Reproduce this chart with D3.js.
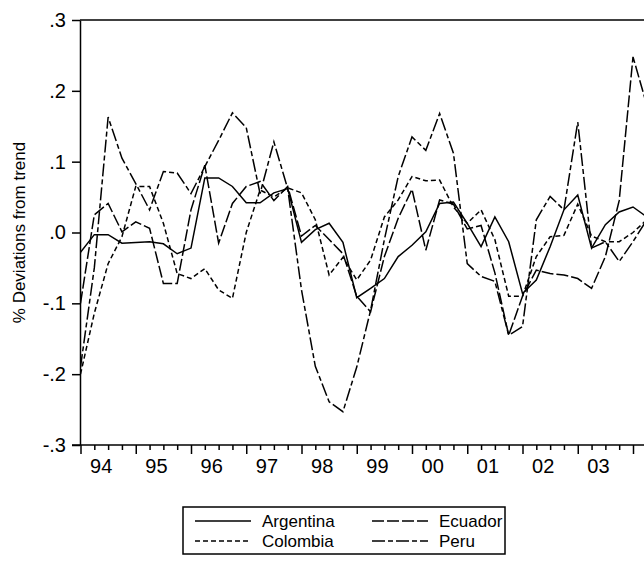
<!DOCTYPE html>
<html>
<head>
<meta charset="utf-8">
<script src="https://cdn.jsdelivr.net/npm/d3@7"></script>
<style>
  html, body { margin: 0; padding: 0; background: #fff; }
  svg { display: block; }
  text { font-family: "Liberation Sans", Arial, sans-serif; fill: #000; }
</style>
</head>
<body>
<script>
// ---- data (quarterly, 1994Q1 .. 2004Q2) ----
const quarterLabels = ["94Q1","94Q2","94Q3","94Q4","95Q1","95Q2","95Q3","95Q4","96Q1","96Q2","96Q3","96Q4",
  "97Q1","97Q2","97Q3","97Q4","98Q1","98Q2","98Q3","98Q4","99Q1","99Q2","99Q3","99Q4",
  "00Q1","00Q2","00Q3","00Q4","01Q1","01Q2","01Q3","01Q4","02Q1","02Q2","02Q3","02Q4",
  "03Q1","03Q2","03Q3","03Q4","04Q1","04Q2"];
const argentina = [-0.028,-0.003,-0.003,-0.015,-0.014,-0.013,-0.016,-0.030,-0.022,0.077,0.077,0.065,
  0.042,0.042,0.056,0.062,-0.014,0.004,0.013,-0.014,-0.092,-0.079,-0.065,-0.034,
  -0.018,0.001,0.041,0.043,0.013,-0.020,0.022,-0.013,-0.086,-0.067,-0.020,0.032,
  0.053,-0.022,0.011,0.029,0.036,0.022];
const colombia = [-0.200,-0.114,-0.044,-0.006,0.065,0.065,0.013,-0.058,-0.065,-0.051,-0.081,-0.093,
  0.000,0.060,0.050,0.063,0.056,0.018,-0.060,-0.035,-0.067,-0.039,0.022,0.046,
  0.079,0.073,0.074,0.036,0.013,0.032,-0.010,-0.090,-0.090,-0.034,-0.006,-0.004,
  0.040,-0.005,-0.013,-0.013,0.000,0.018];
const ecuador = [-0.100,0.025,0.041,0.001,0.015,0.006,-0.072,-0.072,0.032,0.095,-0.015,0.041,
  0.065,0.072,0.045,0.065,-0.005,0.010,-0.010,-0.030,-0.090,-0.112,-0.034,0.020,
  0.061,-0.025,0.046,0.040,0.005,0.010,-0.057,-0.145,-0.090,-0.053,-0.058,-0.060,
  -0.065,-0.079,-0.034,0.045,0.248,0.180];
const peru = [-0.190,-0.050,0.163,0.105,0.069,0.032,0.086,0.084,0.055,0.093,0.130,0.169,
  0.148,0.055,0.128,0.062,-0.081,-0.189,-0.239,-0.253,-0.190,-0.110,-0.010,0.079,
  0.135,0.116,0.168,0.112,-0.044,-0.062,-0.069,-0.145,-0.133,0.018,0.051,0.032,
  0.156,-0.022,-0.013,-0.041,-0.013,0.018];
const seriesNames = ["Argentina","Colombia","Ecuador","Peru"];
const yearLabels = ["94","95","96","97","98","99","00","01","02","03"];
const yTickValues = [-0.3,-0.2,-0.1,0,0.1,0.2,0.3];
const yTickLabels = ["-.3","-.2","-.1",".0",".1",".2",".3"];
const yTitle = "% Deviations from trend";

// ---- layout ----
const W = 644, H = 576;
const plotLeft = 80, plotTop = 20, plotBottom = 445, plotRight = 644;

const svg = d3.select("body").append("svg").attr("width", W).attr("height", H);

const x = d3.scaleLinear().domain([0, 40]).range([80.5, 633]);
const y = d3.scaleLinear().domain([-0.3, 0.3]).range([plotBottom, plotTop]);

svg.append("defs").append("clipPath").attr("id", "plotclip")
  .append("rect").attr("x", plotLeft).attr("y", 0).attr("width", plotRight - plotLeft).attr("height", H);

// top frame line
svg.append("line").attr("x1", plotLeft).attr("x2", plotRight).attr("y1", plotTop).attr("y2", plotTop)
  .attr("stroke", "#000").attr("stroke-width", 1.5);

// y axis
const yAxis = d3.axisLeft(y).tickValues(yTickValues)
  .tickFormat((d, i) => yTickLabels[i]).tickSize(8).tickSizeOuter(0).tickPadding(6);
const gy = svg.append("g").attr("transform", `translate(${plotLeft},0)`).call(yAxis);
gy.select(".domain").attr("stroke-width", 1.5);
gy.selectAll(".tick line").attr("stroke-width", 1.5);
gy.selectAll("text").style("font-size", "20px").style("font-family", "Liberation Sans, Arial, sans-serif");

// x axis: quarterly minor ticks, yearly major ticks
const qIdx = quarterLabels.map((d, i) => i).filter(i => x(i) <= plotRight);
const xAxisMinor = d3.axisBottom(x).tickValues(qIdx.filter(i => i % 4 !== 0))
  .tickFormat("").tickSize(5).tickSizeOuter(0);
const xAxisMajor = d3.axisBottom(x).tickValues(qIdx.filter(i => i % 4 === 0))
  .tickFormat("").tickSize(9).tickSizeOuter(0);
const gx1 = svg.append("g").attr("transform", `translate(0,${plotBottom})`).call(xAxisMinor);
gx1.select(".domain").remove();
gx1.selectAll(".tick line").attr("stroke-width", 1.5);
const gx2 = svg.append("g").attr("transform", `translate(0,${plotBottom})`).call(xAxisMajor);
gx2.select(".domain").remove();
gx2.selectAll(".tick line").attr("stroke-width", 1.5);
svg.append("line").attr("x1", plotLeft - 8).attr("x2", plotRight).attr("y1", plotBottom).attr("y2", plotBottom)
  .attr("stroke", "#000").attr("stroke-width", 1.5);

svg.append("g").selectAll("text").data(yearLabels).join("text")
  .attr("x", (d, i) => x(i * 4 + 1.5))
  .attr("y", 473)
  .attr("text-anchor", "middle")
  .style("font-size", "20px")
  .text(d => d);

// y title
svg.append("text")
  .attr("transform", `translate(25,${(plotTop + plotBottom) / 2}) rotate(-90)`)
  .attr("text-anchor", "middle")
  .style("font-size", "17px")
  .text(yTitle);

// series
const styles = {
  Argentina: { dash: null },
  Colombia: { dash: "5,3" },
  Ecuador: { dash: "12,3" },
  Peru: { dash: "13,3,5,3" }
};
const dataByName = { Argentina: argentina, Colombia: colombia, Ecuador: ecuador, Peru: peru };
const line = d3.line().x((d, i) => x(i)).y(d => y(d));
const gLines = svg.append("g").attr("clip-path", "url(#plotclip)");
seriesNames.forEach(name => {
  gLines.append("path")
    .datum(dataByName[name])
    .attr("d", line)
    .attr("fill", "none")
    .attr("stroke", "#000")
    .attr("stroke-width", 1.5)
    .attr("stroke-linejoin", "miter")
    .attr("stroke-dasharray", styles[name].dash);
});

// legend
const legend = svg.append("g");
legend.append("rect").attr("x", 183).attr("y", 507).attr("width", 322).attr("height", 47)
  .attr("fill", "#fff").attr("stroke", "#000").attr("stroke-width", 1.5);
const legendPos = {
  Argentina: { x: 195, y: 521 },
  Colombia: { x: 195, y: 541 },
  Ecuador: { x: 372, y: 521 },
  Peru: { x: 372, y: 541 }
};
seriesNames.forEach(name => {
  const p = legendPos[name];
  legend.append("line").attr("x1", p.x).attr("x2", p.x + 56).attr("y1", p.y).attr("y2", p.y)
    .attr("stroke", "#000").attr("stroke-width", 1.5)
    .attr("stroke-dasharray", styles[name].dash);
  legend.append("text").attr("x", p.x + 67).attr("y", p.y).attr("dy", "0.36em")
    .style("font-size", "17px").text(name);
});
</script>
</body>
</html>
